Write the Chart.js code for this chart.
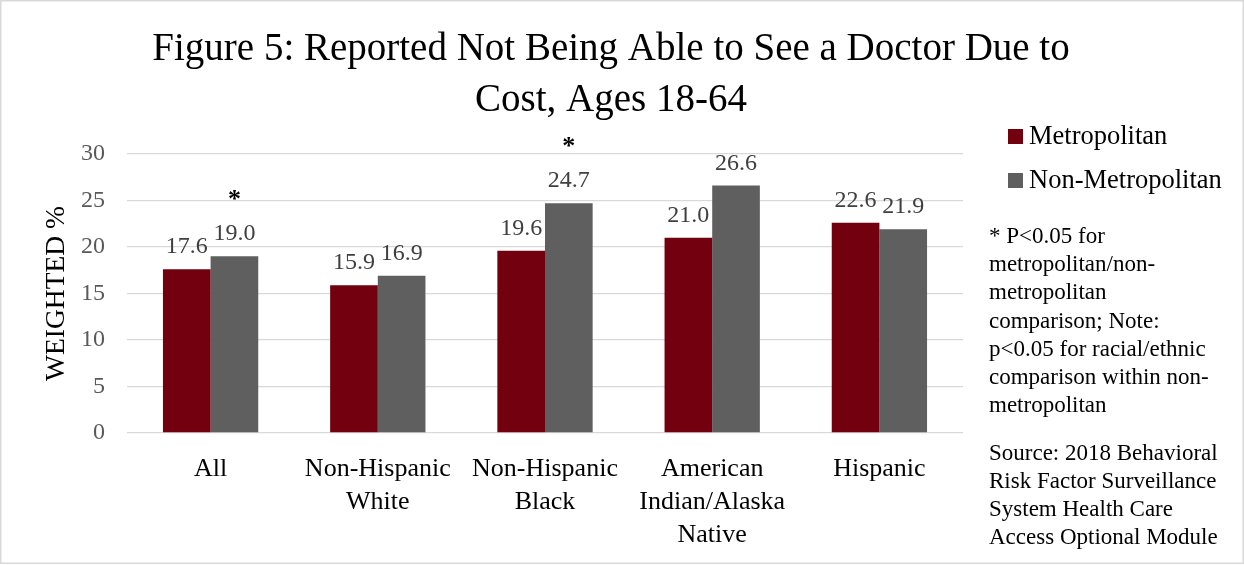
<!DOCTYPE html>
<html>
<head>
<meta charset="utf-8">
<script src="https://cdn.jsdelivr.net/npm/chart.js@4"></script>
<style>
    body { margin: 0; background: #ffffff; }
    #wrap { width: 1244px; height: 565px; }
</style>
</head>
<body>
<div id="wrap"><canvas id="docChart" width="1244" height="565"></canvas></div>
<script>
// Chart data
const categories = ['All', ['Non-Hispanic', 'White'], ['Non-Hispanic', 'Black'], ['American', 'Indian/Alaska', 'Native'], 'Hispanic'];
const metroValues = [17.6, 15.9, 19.6, 21.0, 22.6];
const nonMetroValues = [19.0, 16.9, 24.7, 26.6, 21.9];
const nonMetroStars = [true, false, true, false, false]; // * P<0.05 metro vs non-metro
const seriesNames = ['Metropolitan', 'Non-Metropolitan'];
const seriesColors = ['#73000f', '#5f5f5f'];
const titleLines = ['Figure 5: Reported Not Being Able to See a Doctor Due to', 'Cost, Ages 18-64'];
const noteLines = ['* P<0.05 for', 'metropolitan/non-', 'metropolitan', 'comparison; Note:', 'p<0.05 for racial/ethnic', 'comparison within non-', 'metropolitan'];
const sourceLines = ['Source: 2018 Behavioral', 'Risk Factor Surveillance', 'System Health Care', 'Access Optional Module'];

const FONT = '"Liberation Serif", "Times New Roman", serif';

// Title, legend, notes, value labels and the border
const extrasPlugin = {
    id: 'extras',
    afterDatasetsDraw(chart) {
        const ctx = chart.ctx;
        ctx.save();
        // value labels above the bars
        ctx.font = '24px ' + FONT;
        ctx.fillStyle = '#404040';
        ctx.textAlign = 'center';
        ctx.textBaseline = 'alphabetic';
        chart.data.datasets.forEach((ds, di) => {
            const meta = chart.getDatasetMeta(di);
            meta.data.forEach((bar, i) => {
                ctx.fillText(ds.data[i].toFixed(1), bar.x, bar.y - 16);
            });
        });
        // significance stars
        ctx.font = 'bold 26px ' + FONT;
        ctx.fillStyle = '#000000';
        const nm = chart.getDatasetMeta(1);
        nm.data.forEach((bar, i) => {
            if (nonMetroStars[i]) ctx.fillText('*', bar.x, bar.y - 49);
        });
        ctx.restore();
    },
    afterDraw(chart) {
        const ctx = chart.ctx;
        ctx.save();
        // title
        ctx.fillStyle = '#000000';
        ctx.textAlign = 'center';
        ctx.textBaseline = 'alphabetic';
        ctx.font = '39px ' + FONT;
        ctx.fillText(titleLines[0], 611, 60);
        ctx.fillText(titleLines[1], 611, 111);

        // legend
        ctx.textAlign = 'left';
        ctx.textBaseline = 'middle';
        ctx.font = '26.5px ' + FONT;
        const legendY = [136, 180];
        seriesNames.forEach((name, i) => {
            ctx.fillStyle = seriesColors[i];
            ctx.fillRect(1008, legendY[i] - 7, 15, 15);
            ctx.fillStyle = '#000000';
            ctx.fillText(name, 1029, legendY[i] + 1);
        });

        // notes
        ctx.textBaseline = 'alphabetic';
        ctx.font = '23px ' + FONT;
        noteLines.forEach((line, i) => ctx.fillText(line, 989, 243 + i * 28.2));
        sourceLines.forEach((line, i) => ctx.fillText(line, 989, 460 + i * 28));

        // border
        ctx.strokeStyle = '#d9d9d9';
        ctx.lineWidth = 1.5;
        ctx.strokeRect(0.75, 0.75, 1242.5, 562.5);
        ctx.restore();
    }
};

new Chart(document.getElementById('docChart').getContext('2d'), {
    type: 'bar',
    data: {
        labels: categories,
        datasets: [{
            label: seriesNames[0],
            data: metroValues,
            backgroundColor: seriesColors[0],
            categoryPercentage: 0.57,
            barPercentage: 1.0
        }, {
            label: seriesNames[1],
            data: nonMetroValues,
            backgroundColor: seriesColors[1],
            categoryPercentage: 0.57,
            barPercentage: 1.0
        }]
    },
    options: {
        responsive: false,
        animation: false,
        layout: {
            padding: { top: 154, right: 281, left: 0, bottom: 0 }
        },
        scales: {
            x: {
                grid: { display: false, drawTicks: false },
                border: { display: false },
                ticks: {
                    color: '#000000',
                    padding: 20,
                    maxRotation: 0,
                    autoSkip: false,
                    font: { family: FONT, size: 26, lineHeight: 1.26 }
                },
                afterFit: function (scale) { scale.height = 132; }
            },
            y: {
                min: 0,
                max: 30,
                ticks: {
                    stepSize: 5,
                    color: '#595959',
                    padding: 22,
                    font: { family: FONT, size: 24 }
                },
                grid: { color: '#d9d9d9', lineWidth: 1.3, drawTicks: false },
                border: { display: false },
                title: {
                    display: true,
                    text: 'WEIGHTED %',
                    color: '#000000',
                    padding: { top: 40, bottom: 0 },
                    font: { family: FONT, size: 27.5 }
                },
                afterFit: function (scale) { scale.width = 127; }
            }
        },
        plugins: {
            legend: { display: false },
            title: { display: false },
            tooltip: { enabled: false }
        }
    },
    plugins: [extrasPlugin]
});
</script>
</body>
</html>
